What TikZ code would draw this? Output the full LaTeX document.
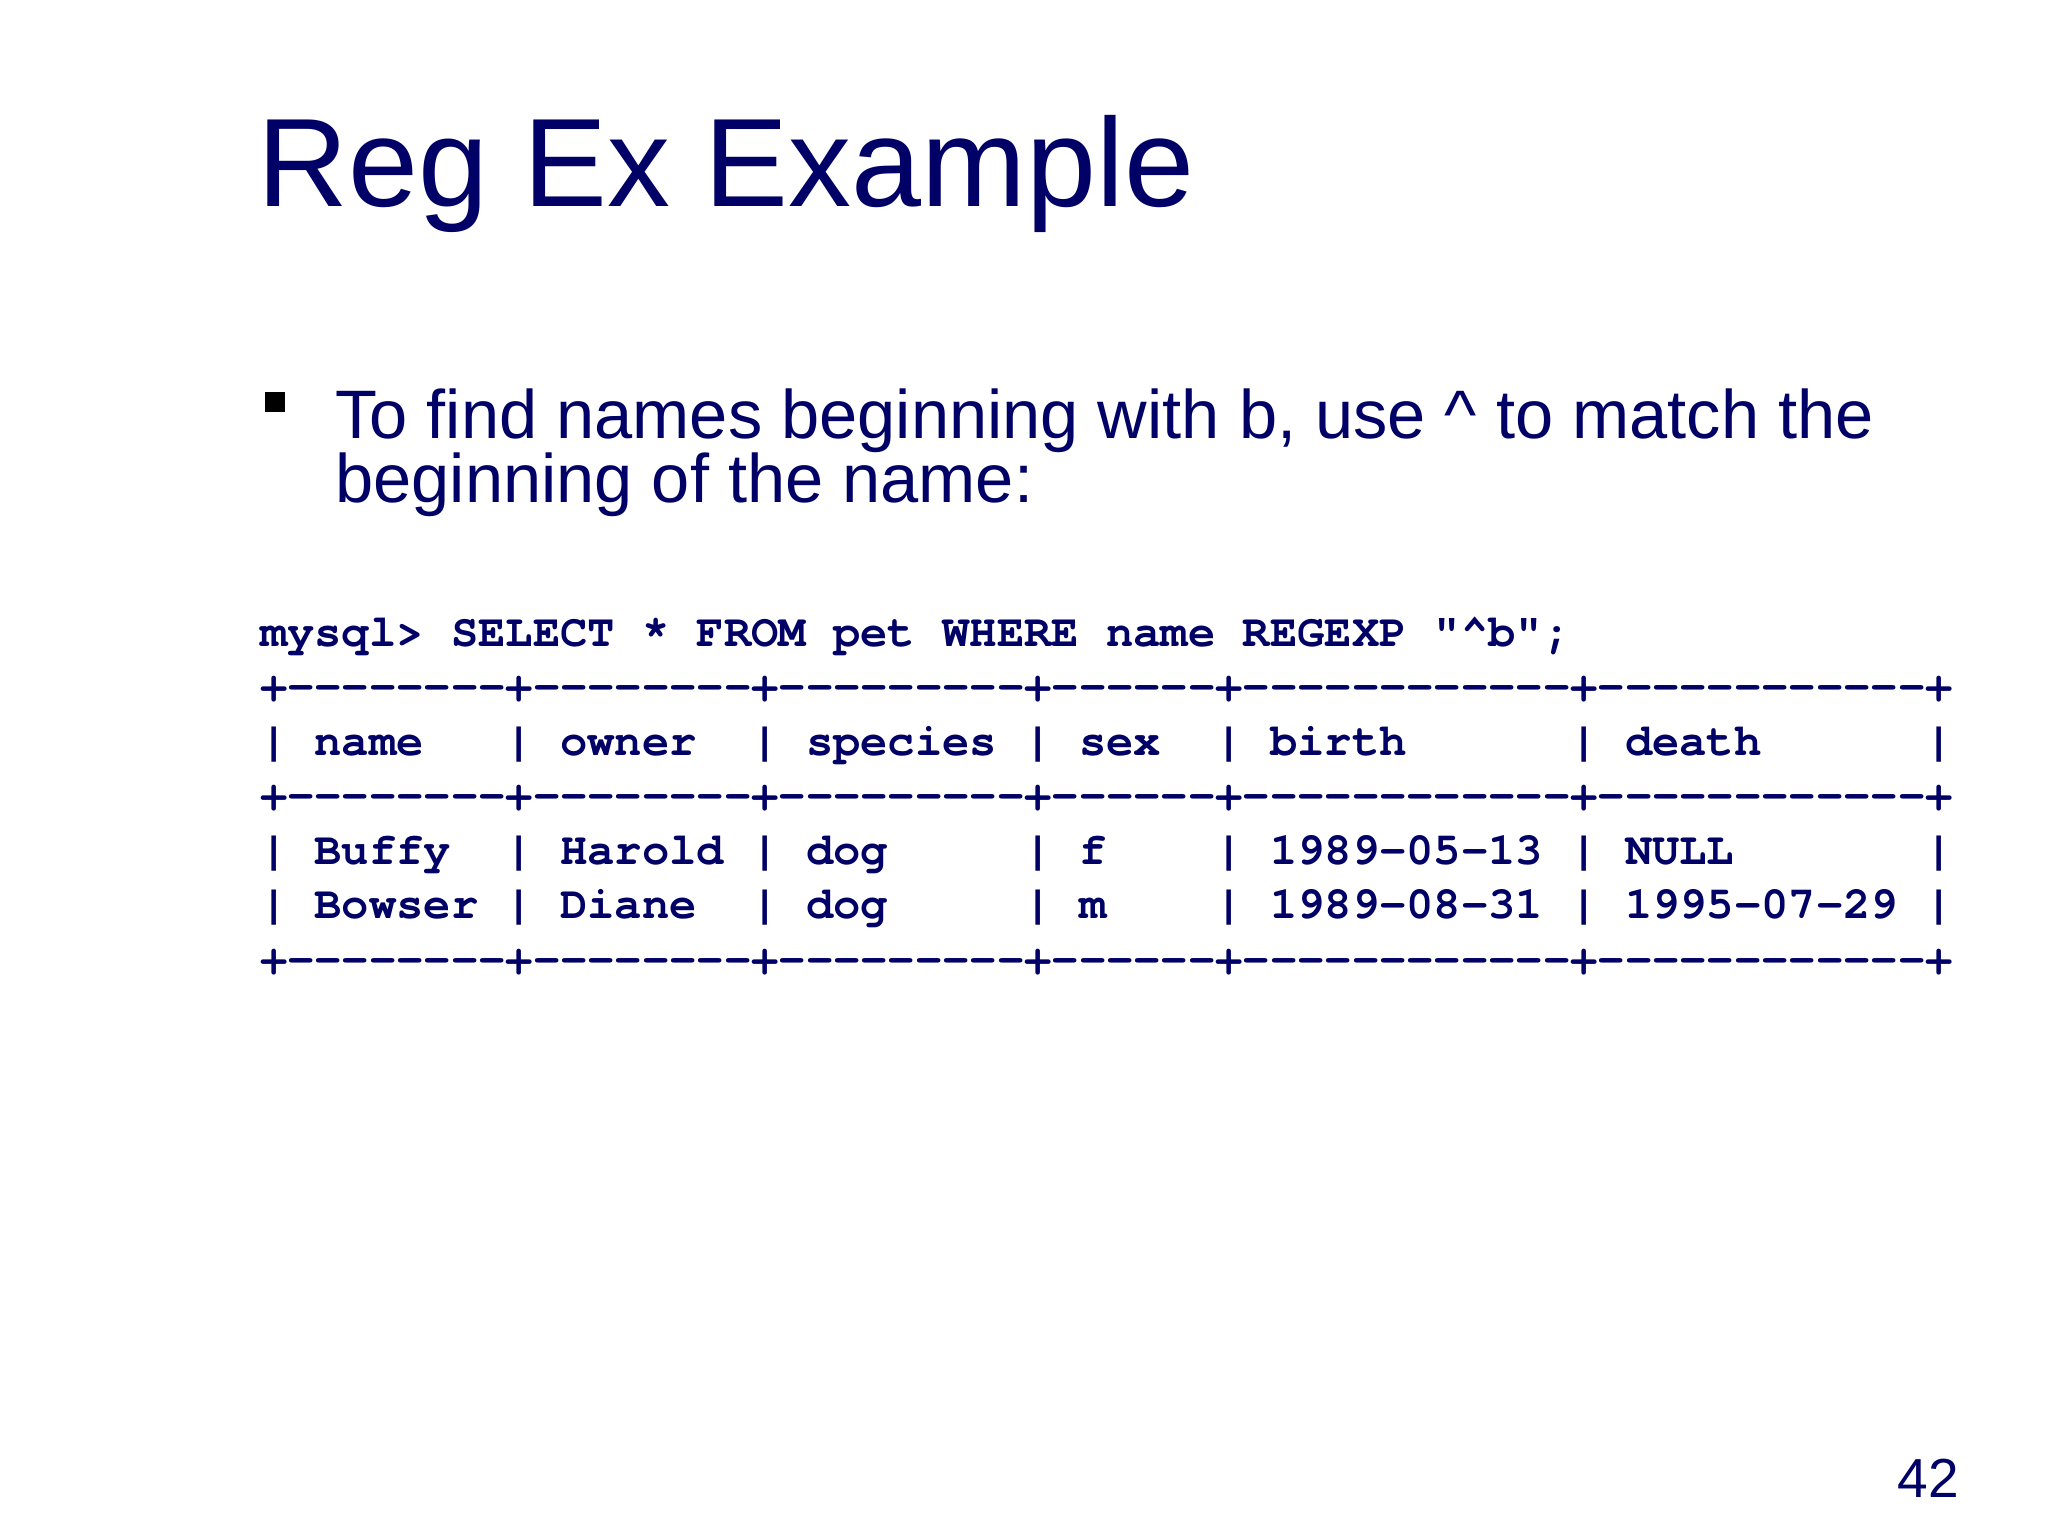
\documentclass[tikz,border=0pt]{standalone}
\usepackage{fontspec}
\setmainfont{Liberation Sans}
\newfontfamily\codefont{texgyrecursor-bold.otf}[Ligatures={NoCommon}]
\definecolor{navy}{RGB}{0,0,102}
\begin{document}
\begin{tikzpicture}[x=1pt,y=1pt,
  every node/.style={inner sep=0pt, outer sep=0pt, anchor=base west, text=navy},
  titletext/.style={font=\fontsize{62.9}{62.9}\selectfont},
  bodytext/.style={font=\fontsize{34.3}{34.3}\selectfont},
  codetext/.style={font=\codefont\fontsize{22.75}{22.75}\selectfont\frenchspacing},
  pagenum/.style={font=\fontsize{27.5}{27.5}\selectfont, anchor=base east},
  bulletbox/.style={fill=black, minimum size=10pt, anchor=north west}]
\useasboundingbox[fill=white] (0,0) rectangle (1024,-768);
% title
\node[titletext] (title) at (128.8,-103) {Reg Ex Example};
% bullet
\node[bulletbox] (bullet) at (132.5,-196) {};
\node[bodytext] (bul1) at (167.7,-219) {To find names beginning with b, use \textasciicircum\ to match the};
\node[bodytext] (bul2) at (167.7,-251) {beginning of the name:};
% code block
\node[codetext] (c0) at (130,-323.00) {mysql>~SELECT~*~FROM~pet~WHERE~name~REGEXP~"\textasciicircum b";};
\node[codetext] (c1) at (130,-350.25) {+--------+--------+---------+------+------------+------------+};
\node[codetext] (c2) at (130,-377.50) {|~name~~~|~owner~~|~species~|~sex~~|~birth~~~~~~|~death~~~~~~|};
\node[codetext] (c3) at (130,-404.75) {+--------+--------+---------+------+------------+------------+};
\node[codetext] (c4) at (130,-432.00) {|~Buffy~~|~Harold~|~dog~~~~~|~f~~~~|~1989-05-13~|~NULL~~~~~~~|};
\node[codetext] (c5) at (130,-459.25) {|~Bowser~|~Diane~~|~dog~~~~~|~m~~~~|~1989-08-31~|~1995-07-29~|};
\node[codetext] (c6) at (130,-486.50) {+--------+--------+---------+------+------------+------------+};
% page number
\node[pagenum] (num) at (979.5,-748.5) {42};
\end{tikzpicture}
\end{document}
